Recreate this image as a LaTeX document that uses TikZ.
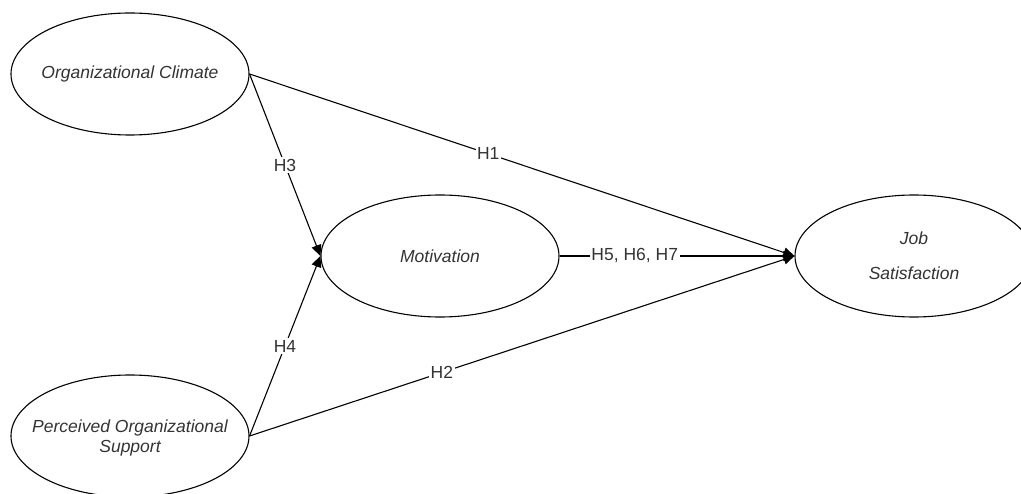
\documentclass[tikz,border=0pt]{standalone}
\usepackage{fontspec}
\setmainfont{Liberation Sans}
\usetikzlibrary{shapes.geometric,arrows.meta}
\definecolor{txt}{HTML}{333333}
\begin{document}
\begin{tikzpicture}[x=1pt,y=-1pt,
  construct/.style={draw=black, line width=1.1pt, ellipse, minimum width=238pt, minimum height=122pt, inner sep=0pt},
  ctext/.style={align=center, inner sep=0pt, text=txt, font=\fontsize{17.5}{20}\selectfont\itshape},
  path/.style={draw=black, line width=1.1pt, -{Triangle[length=11pt,width=10pt]}},
  hlabel/.style={fill=white, inner sep=1.5pt, text=txt, font=\fontsize{17.5}{20}\selectfont}]
\useasboundingbox (0,0) rectangle (1021,494);
\node[construct] (oc) at (130,74) {};
\node[ctext] (octext) at (oc.center) {Organizational Climate};
\node[construct] (pos) at (130,436) {};
\node[ctext] (postext) at (130,438) {Perceived Organizational\\Support};
\node[construct] (mot) at (440,256) {};
\node[ctext] (mottext) at (mot.center) {Motivation};
\node[construct] (js) at (914,256) {};
\node[ctext] (jstext) at (js.center) {Job\\[15pt]Satisfaction};
\draw[path] (oc.east) -- node[hlabel, pos=0.438] {H1} (js.west);
\draw[path] (oc.east) -- node[hlabel, pos=0.5] {H3} (mot.west);
\draw[path] (pos.east) -- node[hlabel, pos=0.5] {H4} (mot.west);
\draw[path] (pos.east) -- node[hlabel, pos=0.353] {H2} (js.west);
\draw[path] (mot.east) -- node[hlabel, pos=0.32] {H5, H6, H7} (js.west);
\end{tikzpicture}
\end{document}
